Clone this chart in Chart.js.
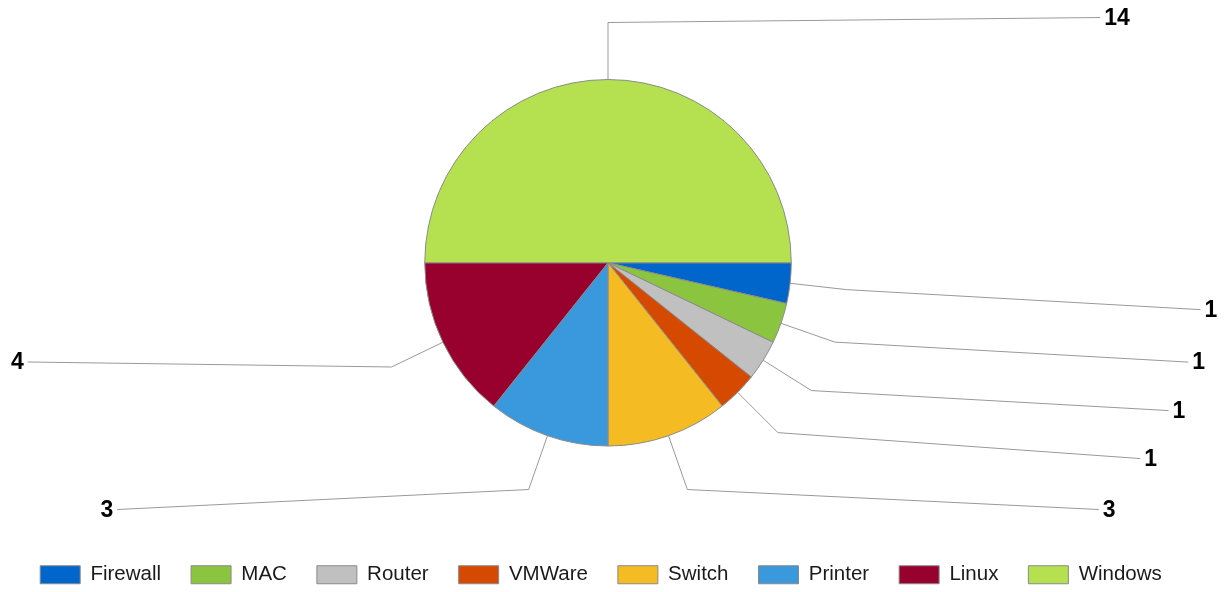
<!DOCTYPE html>
<html>
<head>
<meta charset="utf-8">
<script src="https://cdn.jsdelivr.net/npm/chart.js@4"></script>
<style>
  html, body { margin: 0; padding: 0; background: #fff; overflow: hidden; }
  #wrap { width: 1226px; height: 592px; margin-top: 3px; }
</style>
</head>
<body>
<div id="wrap"><canvas id="pieChart"></canvas></div>
<script>
// datos del gráfico
const categorias = ['Firewall', 'MAC', 'Router', 'VMWare', 'Switch', 'Printer', 'Linux', 'Windows'];
const valores = [1, 1, 1, 1, 3, 3, 4, 14];
const colores = ['#0066cc', '#8bc53f', '#c0c0c0', '#d54a00', '#f4bc22', '#3a98dc', '#98002e', '#b5e150'];

// etiquetas con líneas guía, fuera del pastel
const etiquetasGuia = {
  id: 'etiquetasGuia',
  afterLayout(chart) {
    // la leyenda del original está algo desplazada a la izquierda
    chart.legend.left -= 14;
  },
  afterDatasetsDraw(chart) {
    const ctx = chart.ctx;
    const arcos = chart.getDatasetMeta(0).data;
    const puntos = arcos.map((arc, i) => {
      const p = arc.getProps(['x', 'y', 'startAngle', 'endAngle', 'outerRadius'], true);
      const ang = (p.startAngle + p.endAngle) / 2;
      const r = p.outerRadius;
      const ax = p.x + Math.cos(ang) * r, ay = p.y + Math.sin(ang) * r;
      const ex = p.x + Math.cos(ang) * (r + 57), ey = p.y + Math.sin(ang) * (r + 57);
      const derecha = ex >= p.x;
      let desp = -5;
      if (ey > p.y && (derecha || ey > p.y + 150)) desp = 20;
      return { i, cx: p.x, cy: p.y, ax, ay, ex, ey, derecha, ly: ey + desp };
    });
    // evitar solapes en cada lado
    [true, false].forEach(lado => {
      const grupo = puntos.filter(q => q.derecha === lado && q.ey > q.cy).sort((a, b) => a.ey - b.ey);
      for (let k = 1; k < grupo.length; k++) {
        grupo[k].ly = Math.max(grupo[k].ly, grupo[k - 1].ly + 48);
      }
    });
    ctx.save();
    ctx.strokeStyle = '#999';
    ctx.lineWidth = 1;
    ctx.fillStyle = '#000';
    ctx.font = 'bold 23px "Liberation Sans", Arial, sans-serif';
    ctx.textBaseline = 'middle';
    puntos.forEach(q => {
      const dy = q.ly - q.cy;
      const dx = 596 * Math.sqrt(Math.max(0, 1 - (dy / 435) * (dy / 435)));
      const lx = q.derecha ? q.cx + dx : q.cx - dx;
      ctx.beginPath();
      ctx.moveTo(q.ax, q.ay);
      ctx.lineTo(q.ex, q.ey);
      ctx.lineTo(lx, q.ly);
      ctx.stroke();
      ctx.textAlign = q.derecha ? 'left' : 'right';
      ctx.fillText(String(valores[q.i]), q.derecha ? lx + 4 : lx - 4, q.ly + 1);
    });
    ctx.restore();
  }
};

const ctx = document.getElementById('pieChart').getContext('2d');
const grafico = new Chart(ctx, {
  type: 'pie',
  data: {
    labels: categorias,
    datasets: [{
      data: valores,
      backgroundColor: colores,
      borderColor: '#8a8a8a',
      borderWidth: 1
    }]
  },
  options: {
    responsive: true,
    maintainAspectRatio: false,
    animation: false,
    rotation: 90,
    layout: { padding: { top: 76, left: 0, right: 10, bottom: 0 } },
    plugins: {
      tooltip: { enabled: false },
      legend: {
        position: 'bottom',
        title: {
          display: true,
          text: ' ',
          font: { size: 12 },
          padding: { top: 73.6, bottom: 0 }
        },
        labels: {
          boxWidth: 40,
          boxHeight: 18,
          padding: 30,
          color: '#1a1a1a',
          font: { family: '"Liberation Sans", Arial, sans-serif', size: 20.5 }
        }
      }
    }
  },
  plugins: [etiquetasGuia]
});
</script>
</body>
</html>
